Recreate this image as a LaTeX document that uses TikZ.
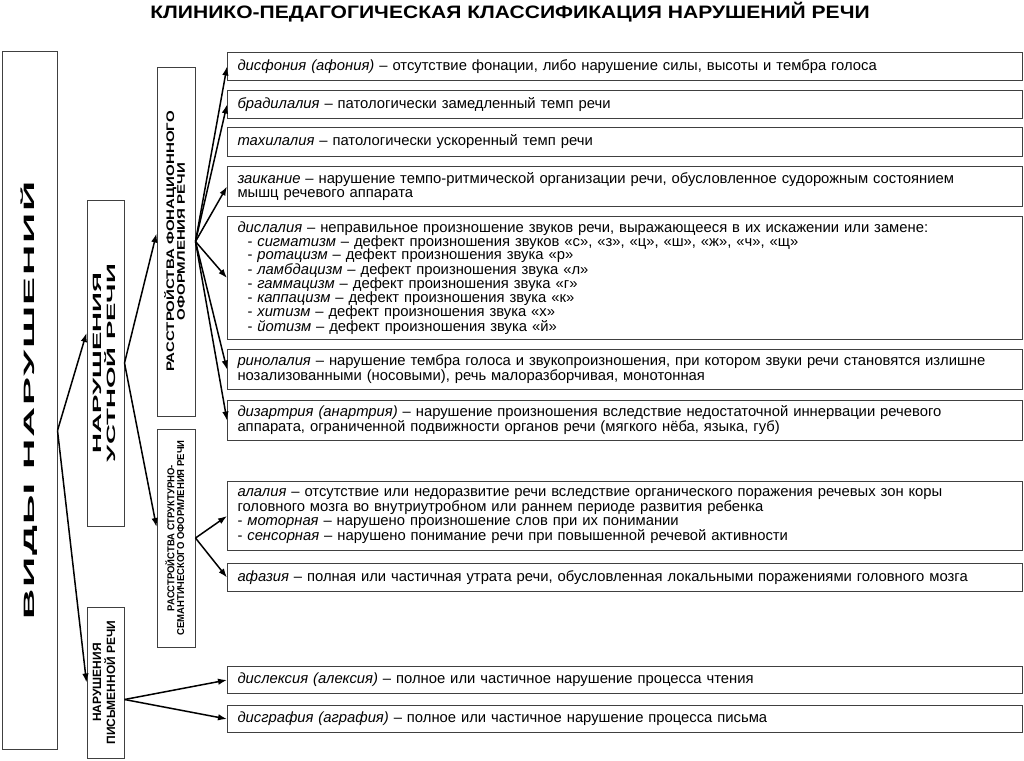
\documentclass[tikz,border=0pt]{standalone}
\usepackage{fontspec}
\setmainfont{Liberation Sans}
\usetikzlibrary{arrows.meta}
\begin{document}
\begin{tikzpicture}[x=1pt,y=-1pt,
 bx/.style={draw=black!75, line width=1pt, inner sep=0pt},
 item/.style={draw=black!75, line width=1pt, anchor=north west, minimum width=794pt, text width=775pt, inner xsep=10pt, inner ysep=0pt, align=left, font=\fontsize{14.8}{13.8}\selectfont},
 arr/.style={line width=1.5pt, -{Latex[length=9pt,width=6.5pt]}},
]
\useasboundingbox (0,0) rectangle (1024,760);
\fill[white] (0,0) rectangle (1024,760);

\node[font=\bfseries\fontsize{18}{18}\selectfont] (title) at (510,12) {\scalebox{1.17}[1]{КЛИНИКО-ПЕДАГОГИЧЕСКАЯ КЛАССИФИКАЦИЯ НАРУШЕНИЙ РЕЧИ}};

\node[bx, minimum width=55pt, minimum height=697pt] (vid) at (29.5,400.5)
 {\rotatebox{90}{\scalebox{2.8}[1]{\bfseries\fontsize{15}{15}\selectfont\addfontfeature{LetterSpace=4}ВИДЫ НАРУШЕНИЙ}}};
\node[bx, minimum width=37pt, minimum height=326pt] (ust) at (105.5,363)
 {\rotatebox{90}{\scalebox{2.3}[1]{\bfseries\fontsize{12}{10.5}\selectfont\begin{tabular}{@{}c@{}}НАРУШЕНИЯ\\УСТНОЙ РЕЧИ\end{tabular}}}};
\node[bx, minimum width=37pt, minimum height=151pt] (pis) at (105.5,682.5)
 {\rotatebox{90}{\scalebox{1.0}[1]{\bfseries\fontsize{12}{10}\selectfont\begin{tabular}{@{}c@{}}НАРУШЕНИЯ\\ПИСЬМЕННОЙ РЕЧИ\end{tabular}}}};
\node[bx, minimum width=38pt, minimum height=349pt] (fon) at (176,241.5)
 {\rotatebox{90}{\scalebox{1.37}[1]{\bfseries\fontsize{11}{10}\selectfont\begin{tabular}{@{}c@{}}РАССТРОЙСТВА ФОНАЦИОННОГО\\ОФОРМЛЕНИЯ РЕЧИ\end{tabular}}}};
\node[bx, minimum width=38pt, minimum height=218pt] (str) at (176,538)
 {\rotatebox{90}{\scalebox{0.95}[1]{\bfseries\fontsize{10}{9}\selectfont\begin{tabular}{@{}c@{}}РАССТРОЙСТВА СТРУКТУРНО-\\СЕМАНТИЧЕСКОГО ОФОРМЛЕНИЯ РЕЧИ\end{tabular}}}};

\node[item, minimum height=28pt] (b1) at (227,52) {\textit{дисфония (афония)} – отсутствие фонации, либо нарушение силы, высоты и тембра голоса};
\node[item, minimum height=28pt] (b2) at (227,90) {\textit{брадилалия} – патологически замедленный темп речи};
\node[item, minimum height=29pt] (b3) at (227,127) {\textit{тахилалия} – патологически ускоренный темп речи};
\node[item, minimum height=40pt] (b4) at (227,166) {\textit{заикание} – нарушение темпо-ритмической организации речи, обусловленное судорожным состоянием\\мышц речевого аппарата};
\node[item, minimum height=123pt] (b5) at (227,216) {\textit{дислалия} – неправильное произношение звуков речи, выражающееся в их искажении или замене:\\
\hspace*{10pt}- \textit{сигматизм} – дефект произношения звуков «с», «з», «ц», «ш», «ж», «ч», «щ»\\
\hspace*{10pt}- \textit{ротацизм} – дефект произношения звука «р»\\
\hspace*{10pt}- \textit{ламбдацизм} – дефект произношения звука «л»\\
\hspace*{10pt}- \textit{гаммацизм} – дефект произношения звука «г»\\
\hspace*{10pt}- \textit{каппацизм} – дефект произношения звука «к»\\
\hspace*{10pt}- \textit{хитизм} – дефект произношения звука «х»\\
\hspace*{10pt}- \textit{йотизм} – дефект произношения звука «й»};
\node[item, minimum height=40pt] (b6) at (227,349) {\textit{ринолалия} – нарушение тембра голоса и звукопроизношения, при котором звуки речи становятся излишне\\нозализованными (носовыми), речь малоразборчивая, монотонная};
\node[item, minimum height=40pt] (b7) at (227,400) {\textit{дизартрия (анартрия)} – нарушение произношения вследствие недостаточной иннервации речевого\\аппарата, ограниченной подвижности органов речи (мягкого нёба, языка, губ)};
\node[item, minimum height=69pt] (b8) at (227,481) {\textit{алалия} – отсутствие или недоразвитие речи вследствие органического поражения речевых зон коры\\головного мозга во внутриутробном или раннем периоде развития ребенка\\- \textit{моторная} – нарушено произношение слов при их понимании\\- \textit{сенсорная} – нарушено понимание речи при повышенной речевой активности};
\node[item, minimum height=28pt] (b9) at (227,563) {\textit{афазия} – полная или частичная утрата речи, обусловленная локальными поражениями головного мозга};
\node[item, minimum height=27pt] (b10) at (227,666) {\textit{дислексия (алексия)} – полное или частичное нарушение процесса чтения};
\node[item, minimum height=27pt] (b11) at (227,705) {\textit{дисграфия (аграфия)} – полное или частичное нарушение процесса письма};

\draw[arr] ([yshift=-30pt]vid.east) -- ([yshift=30pt]ust.west);
\draw[arr] ([yshift=-30pt]vid.east) -- (pis.west);
\draw[arr] (ust.east) -- ([yshift=8pt]fon.west);
\draw[arr] (ust.east) -- ([yshift=11pt]str.west);
\foreach \b in {b1,b2,b4,b5,b6,b7} \draw[arr] (fon.east) -- (\b.west);
\draw[arr] (str.east) -- (b8.west);
\draw[arr] (str.east) -- (b9.west);
\draw[arr] ([yshift=-17pt]pis.east) -- (b10.west);
\draw[arr] ([yshift=-17pt]pis.east) -- (b11.west);
\end{tikzpicture}
\end{document}
